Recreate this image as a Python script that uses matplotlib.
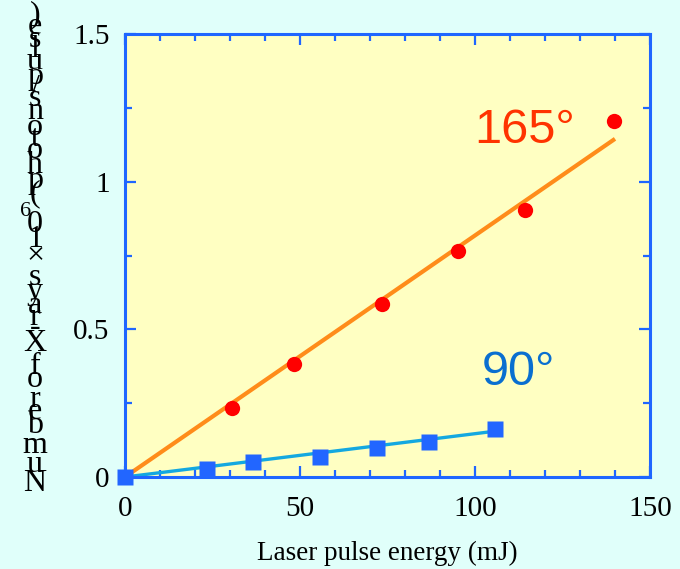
import matplotlib
matplotlib.use("Agg")
import matplotlib.pyplot as plt
from matplotlib.ticker import MultipleLocator
from matplotlib.font_manager import FontProperties, findfont, get_font

# ---- data ----
energy_165 = [30.6, 48.3, 73.4, 95.1, 114.3, 139.7]
xrays_165 = [0.234, 0.383, 0.586, 0.766, 0.905, 1.207]
fit_165_x = [0, 140]
fit_165_y = [0, 1.145]

energy_90 = [0, 23.4, 36.6, 55.7, 72.0, 86.9, 105.7]
xrays_90 = [0.0, 0.027, 0.051, 0.068, 0.098, 0.119, 0.163]
fit_90_x = [0, 105.7]
fit_90_y = [0, 0.155]

x_ticks = [0, 50, 100, 150]
y_ticks = [0, 0.5, 1, 1.5]
y_tick_labels = ["0", "0.5", "1", "1.5"]
xlabel = "Laser pulse energy (mJ)"
ylabel_main = "Number of X-rays \u00d710"
ylabel_sup = "6"
ylabel_tail = " (photons/pulse)"

W, H = 680, 569
fig = plt.figure(figsize=(W / 100, H / 100), dpi=100, facecolor="#E0FFFA")
ax = fig.add_axes([125 / W, 92 / H, 525 / W, 443 / H], facecolor="#FFFFC2")

spine_c = "#1F66FF"
serif = "Liberation Serif"
sans = "Liberation Sans"

ax.plot(fit_165_x, fit_165_y, color="#FF8C1A", lw=3, solid_capstyle="butt", zorder=2)
ax.plot(energy_165, xrays_165, "o", color="#FF0000", ms=11, mec="none", zorder=3)
ax.plot(fit_90_x, fit_90_y, color="#14A8E0", lw=2.4, zorder=2)
ax.plot(energy_90, xrays_90, "s", color="#2266FF", ms=11.5, mec="none", zorder=3, clip_on=False)

ax.set_xlim(0, 150)
ax.set_ylim(0, 1.5)
ax.set_xticks(x_ticks)
ax.set_yticks(y_ticks)
ax.set_yticklabels(y_tick_labels)
ax.xaxis.set_minor_locator(MultipleLocator(10))
ax.yaxis.set_minor_locator(MultipleLocator(0.25))
for s in ax.spines.values():
    s.set_color(spine_c)
    s.set_linewidth(2.2)
ax.tick_params(which="both", direction="in", top=True, right=True, color=spine_c, width=1.6)
ax.tick_params(which="major", length=8, labelsize=21)
ax.tick_params(which="minor", length=5)
ax.tick_params(axis="x", pad=14)
ax.tick_params(axis="y", pad=11)
for lab in ax.get_xticklabels() + ax.get_yticklabels():
    lab.set_family(serif)

ax.set_xlabel(xlabel, family=serif, fontsize=19.5, labelpad=13)

ax.text(0.665, 0.782, "165\u00b0", transform=ax.transAxes, color="#FF3300",
        family=sans, fontsize=35, ha="left", va="center")
ax.text(0.68, 0.235, "90\u00b0", transform=ax.transAxes, color="#0A6FD0",
        family=sans, fontsize=35, ha="left", va="center")

# ---- stacked y label: upright glyphs laid out along a vertical baseline ----
fp = FontProperties(family=serif)
font = get_font(findfont(fp))
font.set_size(100, 72)

def adv(ch):
    g = font.load_char(ord(ch))
    return g.horiAdvance / 64.0

chars = []
for ch in ylabel_main:
    chars.append((ch, 1.0, 0.0))
chars.append((ylabel_sup, 0.7, 1.0))
for ch in ylabel_tail:
    chars.append((ch, 1.0, 0.0))

advs = [adv(c) * s for c, s, _ in chars]
total = sum(advs)
y_bottom, y_top = 494, 10  # pixel rows from top
scale = (y_bottom - y_top) / total
pos = 0.0
x_center = 35
for (ch, s, sup), a in zip(chars, advs):
    yc = y_bottom - (pos + a / 2) * scale
    pos += a
    if ch == " ":
        continue
    xc = x_center - (9 if sup else 0)
    fig.text(xc / W, 1 - yc / H, ch, family=serif, fontsize=23 * s,
             ha="center", va="center")

fig.savefig("out.png", dpi=100, facecolor=fig.get_facecolor())
